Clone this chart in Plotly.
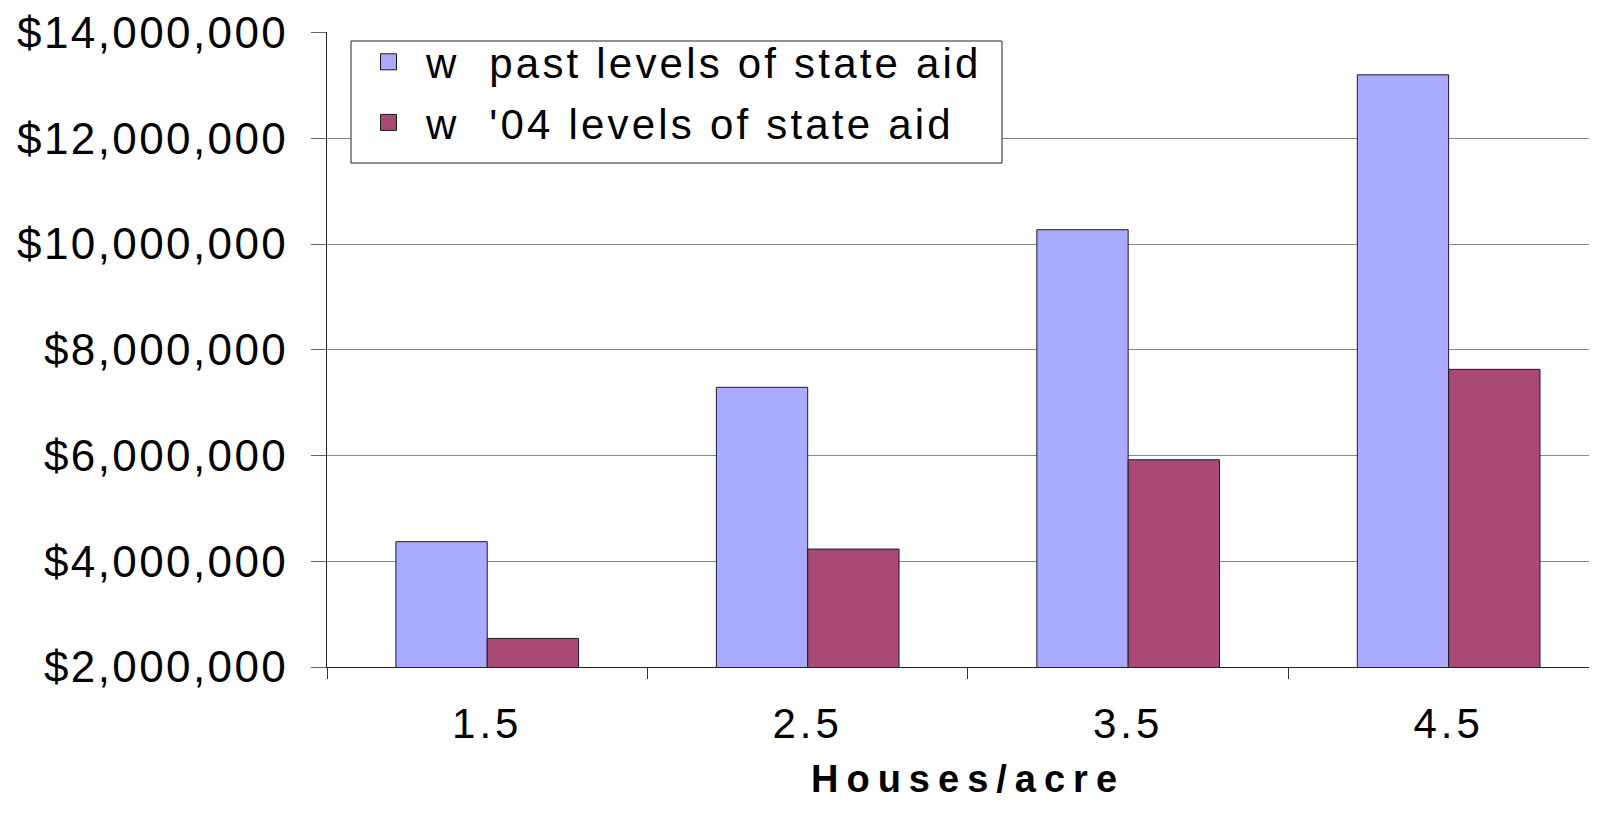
import plotly.graph_objects as go

houses_per_acre = ['1.5', '2.5', '3.5', '4.5']
past_aid = [4370000, 7290000, 10270000, 13200000]
aid_04 = [2540000, 4230000, 5920000, 7630000]
y_ticks = [2000000, 4000000, 6000000, 8000000, 10000000, 12000000, 14000000]
series_names = ['w\u00a0 past levels of state aid', "w\u00a0 '04 levels of state aid"]
series_colors = ['#AAABFF', '#A94976']
x_title = 'Houses/acre'

FONT = 'Liberation Sans, Arial, sans-serif'

# page body has an 8px margin, so the figure is a bit smaller than the window
W, H = 1581, 797
L, T, B = 319, 24, 138
plot_w = W - L
plot_h = H - T - B


def spaced(text, px):
    return f'<span style="letter-spacing:{px}px">{text}</span>'


def px_x(x):
    return (x - L) / plot_w


def px_y(y):
    return (H - B - y) / plot_h


fig = go.Figure()
for name, vals, color, grp in zip(series_names, [past_aid, aid_04], series_colors, ['a', 'b']):
    fig.add_trace(go.Bar(x=houses_per_acre, y=vals, name=spaced(name, 3.2),
                         marker=dict(color=color, line=dict(color='#1a1a2a', width=1)),
                         legendgroup=grp, showlegend=False))
    # legend entry with a bigger swatch than the bar default
    fig.add_trace(go.Scatter(x=[None], y=[None], mode='markers', name=spaced(name, 3.2),
                             marker=dict(symbol='square', size=16, color=color,
                                         line=dict(color='#1a1a1a', width=1)),
                             legendgroup=grp, showlegend=True))

# legend frame
fig.add_shape(type='rect', xref='paper', yref='paper',
              x0=px_x(343), x1=px_x(994), y0=px_y(155), y1=px_y(33),
              fillcolor='white', line=dict(color='#222222', width=1), layer='above')

# x axis title sits lower than plotly's margin-bound title would
fig.add_annotation(text='<b>' + spaced(x_title, 8) + '</b>', xref='paper', yref='paper',
                   x=px_x(960), y=px_y(771), xanchor='center', yanchor='middle',
                   showarrow=False, font=dict(size=38, color='black', family=FONT))

fig.update_layout(
    width=W, height=H,
    margin=dict(l=L, r=0, t=T, b=B),
    paper_bgcolor='white',
    plot_bgcolor='white',
    barmode='group',
    bargap=0.43,
    bargroupgap=0,
    font=dict(family=FONT, color='black'),
    showlegend=True,
    legend=dict(
        x=px_x(343), y=px_y(20), xanchor='left', yanchor='top',
        bgcolor='rgba(0,0,0,0)', borderwidth=0,
        font=dict(size=42, color='black', family=FONT),
        tracegroupgap=3,
        itemwidth=65,
    ),
    xaxis=dict(
        type='category',
        automargin=False,
        range=[-0.5, 3.438],
        tickson='boundaries',
        ticks='outside', ticklen=11, tickcolor='#333333',
        ticktext=[spaced(t, 4) for t in houses_per_acre],
        tickvals=houses_per_acre,
        tickfont=dict(size=42, color='black'),
        ticklabelstandoff=20,
        showline=True, linecolor='#222222', linewidth=1,
        showgrid=False,
    ),
    yaxis=dict(
        automargin=False,
        range=[2000000, 14010000],
        tickvals=y_ticks,
        ticktext=[spaced(f'${v:,}', 2.4) for v in y_ticks],
        tickfont=dict(size=44, color='black'),
        ticks='outside', ticklen=15, tickcolor='#666666',
        ticklabelstandoff=14,
        ticklabeloverflow='allow',
        showline=True, linecolor='#222222', linewidth=1,
        showgrid=True, gridcolor='#888888', gridwidth=1,
        zeroline=False,
    ),
)

fig.write_html("out.html")
